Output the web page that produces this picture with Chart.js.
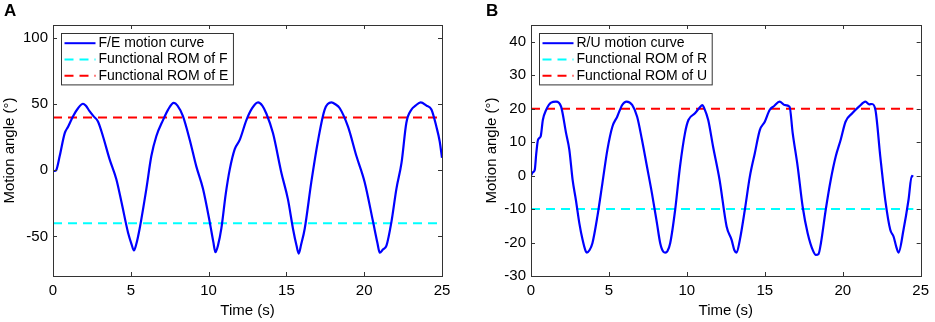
<!DOCTYPE html>
<html>
<head>
<meta charset="utf-8">
<script src="https://cdn.jsdelivr.net/npm/chart.js@4/dist/chart.umd.min.js"></script>
<style>
  body { margin: 0; background: #fff; }
  .panel { position: absolute; top: 0; height: 322px; }
  .tag { position: absolute; top: 1px; font: bold 17px "Liberation Sans", Arial, sans-serif; line-height: 20px; color: #000; }
</style>
</head>
<body>
<div class="panel" style="left:0;width:465px"><canvas id="chartA"></canvas></div>
<div class="panel" style="left:465px;width:470px"><canvas id="chartB"></canvas></div>
<div class="tag" style="left:4px">A</div>
<div class="tag" style="left:486px">B</div>
<script>
// panel A: flexion / extension
const timeA = [0, 0.1, 0.2, 0.43, 0.75, 0.97, 1.29, 1.61, 1.93, 2.1, 2.36, 2.6, 2.89, 3.21, 3.64, 4.07, 4.4, 4.82, 5.05, 5.2, 5.35, 5.57, 6.0, 6.32, 6.64, 7.07, 7.4, 7.76, 8.0, 8.35, 8.79, 9.21, 9.64, 10.07, 10.3, 10.44, 10.6, 10.82, 11.1, 11.36, 11.68, 12.0, 12.43, 12.8, 13.18, 13.45, 13.71, 14.14, 14.68, 15.1, 15.42, 15.65, 15.79, 15.95, 16.18, 16.6, 17.04, 17.46, 17.89, 18.15, 18.43, 18.96, 19.5, 20.03, 20.57, 20.85, 21.0, 21.2, 21.43, 21.75, 22.07, 22.4, 22.71, 23.04, 23.3, 23.63, 24.0, 24.32, 24.64, 24.85, 25];
const angleA = [0, -0.5, 0, 10.8, 28, 33, 41, 47, 50.4, 49, 44.6, 41, 37, 25.8, 8.3, -6.8, -24, -47, -56, -60.7, -56, -44, -14, 10.8, 25.8, 38, 46, 51, 49, 41, 23, 3, -14, -39, -54, -62, -57, -44, -18, 0.7, 16, 23, 38, 47, 51.4, 49, 43, 28, -2, -22, -44, -57, -63, -56, -44, -9, 23, 46, 51.4, 50, 47, 33, 10.8, -9, -39, -55, -62.4, -60, -57, -39, -14, 5.8, 36, 46, 49, 51.4, 49, 46, 33, 22, 9.5];
const romF = -40;
const romE = 40;

// panel B: radial / ulnar deviation
const timeB = [0, 0.12, 0.24, 0.34, 0.45, 0.62, 0.76, 0.97, 1.29, 1.61, 1.93, 2.25, 2.46, 2.67, 2.88, 3.1, 3.31, 3.5, 3.58, 3.75, 3.94, 4.26, 4.58, 4.9, 5.22, 5.53, 5.85, 6.13, 6.49, 6.81, 7.12, 7.44, 7.76, 8.08, 8.29, 8.5, 8.61, 8.75, 8.93, 9.25, 9.56, 9.88, 10.1, 10.52, 10.8, 11.0, 11.1, 11.37, 11.68, 12.1, 12.55, 12.87, 13.05, 13.19, 13.4, 13.72, 14.04, 14.36, 14.68, 15.0, 15.31, 15.6, 15.95, 16.27, 16.59, 16.79, 17.11, 17.43, 17.75, 18.1, 18.28, 18.45, 18.6, 18.91, 19.23, 19.55, 19.87, 20.18, 20.61, 21.04, 21.46, 21.7, 21.88, 22.1, 22.41, 22.73, 23.05, 23.26, 23.45, 23.58, 23.9, 24.22, 24.43, 24.53];
const angleB = [0, 1, 1.7, 6.7, 10.7, 11.7, 16.6, 19.6, 21.8, 22.1, 20.6, 12.7, 7.7, -1.3, -7.3, -14.2, -19.2, -22.5, -23, -22.3, -20.2, -12.2, -2.3, 7.7, 14.6, 17.6, 21.1, 22.1, 21.1, 17.6, 10.7, 2.7, -5.3, -14.2, -20.2, -22.8, -23, -22.6, -20.2, -10.2, 2.7, 12.7, 16.6, 18.6, 20.2, 21.1, 20.3, 16.6, 8.7, -1.3, -15.2, -19.2, -22.3, -23, -19.2, -10.2, -0.3, 6.7, 13.6, 16.1, 19.6, 20.8, 22.1, 21.1, 20.6, 12.7, 2.7, -9.3, -17.2, -22.5, -23.7, -23.4, -20.2, -10.2, -1.3, 5.7, 10.7, 16.1, 18.6, 20.6, 22.1, 21.3, 21.4, 19.6, 5.7, -7.3, -16.2, -18.2, -21.5, -23, -16.2, -7.3, -0.1, -0.3];
const romR = -10;
const romU = 20;

const FONT = '"Liberation Sans", Arial, Helvetica, sans-serif';
const AXIS_COLOR = '#333';

const pts = (xs, ys) => xs.map((x, i) => ({ x: x, y: ys[i] }));
const flat = (x0, x1, y) => [{ x: x0, y: y }, { x: x1, y: y }];

// MATLAB-like box with inward ticks, plus a boxed legend in the top left corner
const framePlugin = {
  id: 'frame',
  afterDraw(chart) {
    const ctx = chart.ctx;
    const a = chart.chartArea;
    const xs = chart.scales.x, ys = chart.scales.y;
    ctx.save();
    ctx.strokeStyle = AXIS_COLOR;
    ctx.lineWidth = 1;
    ctx.strokeRect(Math.round(a.left) + 0.5, Math.round(a.top) + 0.5, Math.round(a.right - a.left), Math.round(a.bottom - a.top));
    const tl = 4;
    ctx.beginPath();
    xs.ticks.forEach(t => {
      const px = Math.round(xs.getPixelForValue(t.value)) + 0.5;
      ctx.moveTo(px, a.bottom); ctx.lineTo(px, a.bottom - tl);
      ctx.moveTo(px, a.top); ctx.lineTo(px, a.top + tl);
    });
    ys.ticks.forEach(t => {
      const py = Math.round(ys.getPixelForValue(t.value)) + 0.5;
      ctx.moveTo(a.left, py); ctx.lineTo(a.left + tl, py);
      ctx.moveTo(a.right, py); ctx.lineTo(a.right - tl, py);
    });
    ctx.stroke();

    // legend
    const ds = chart.data.datasets;
    ctx.font = '14px ' + FONT;
    const bx = Math.round(a.left + 8) + 0.5, by = Math.round(a.top + 8) + 0.5;
    const row = 16.3, sample = 31, gap = 3, padR = 5;
    const tw = Math.max(...ds.map(d => ctx.measureText(d.label).width));
    const bw = 3 + sample + gap + tw + padR;
    const bh = row * ds.length + 2.5;
    ctx.fillStyle = '#fff';
    ctx.fillRect(bx, by, bw, bh);
    ctx.strokeStyle = AXIS_COLOR;
    ctx.strokeRect(bx, by, bw, bh);
    ds.forEach((d, i) => {
      const cy = by + 9.7 + i * row;
      ctx.beginPath();
      ctx.strokeStyle = d.borderColor;
      ctx.lineWidth = 2;
      ctx.setLineDash(d.borderDash || []);
      ctx.moveTo(bx + 3, cy); ctx.lineTo(bx + 3 + sample, cy);
      ctx.stroke();
      ctx.setLineDash([]);
      ctx.fillStyle = '#000';
      ctx.textBaseline = 'middle';
      ctx.fillText(d.label, bx + 3 + sample + gap, cy);
    });
    ctx.restore();
  }
};

function makeChart(id, cfg) {
  return new Chart(document.getElementById(id), {
    type: 'line',
    data: {
      datasets: [
        { label: cfg.labels[0], data: cfg.curve, borderColor: '#0000ff', borderWidth: 2.2, pointRadius: 0, cubicInterpolationMode: 'monotone' },
        { label: cfg.labels[1], data: cfg.low, borderColor: '#00ffff', borderWidth: 2, borderDash: [9, 6], pointRadius: 0 },
        { label: cfg.labels[2], data: cfg.high, borderColor: '#ff0000', borderWidth: 2, borderDash: [9, 6], pointRadius: 0 }
      ]
    },
    options: {
      responsive: true,
      maintainAspectRatio: false,
      animation: false,
      layout: { padding: { top: 25, right: cfg.padRight, left: 0, bottom: 0 } },
      plugins: { legend: { display: false }, tooltip: { enabled: false } },
      scales: {
        x: {
          type: 'linear', min: 0, max: 25,
          grid: { display: false, tickLength: 0 }, border: { display: false },
          ticks: { stepSize: 5, padding: 6, color: '#000', font: { family: FONT, size: 15 } },
          title: { display: true, text: 'Time (s)', color: '#000', font: { family: FONT, size: 15 }, padding: { top: 0, bottom: 2 } },
          afterFit: s => { s.height = 46; }
        },
        y: {
          min: cfg.yMin, max: cfg.yMax,
          grid: { display: false, tickLength: 0 }, border: { display: false },
          ticks: { padding: 5, color: '#000', font: { family: FONT, size: 15 } },
          afterBuildTicks: s => { s.ticks = cfg.yTicks.map(v => ({ value: v })); },
          title: { display: true, text: 'Motion angle (°)', color: '#000', font: { family: FONT, size: 15 }, padding: { top: cfg.titlePad, bottom: 0 } },
          afterFit: s => { s.width = cfg.yWidth; }
        }
      }
    },
    plugins: [framePlugin]
  });
}

makeChart('chartA', {
  labels: ['F/E motion curve', 'Functional ROM of F', 'Functional ROM of E'],
  curve: pts(timeA, angleA),
  low: flat(0, 25, romF),
  high: flat(0, 25, romE),
  yMin: -80, yMax: 110, yTicks: [-50, 0, 50, 100],
  yWidth: 53, padRight: 23, titlePad: 1
});

makeChart('chartB', {
  labels: ['R/U motion curve', 'Functional ROM of R', 'Functional ROM of U'],
  curve: pts(timeB, angleB),
  low: flat(0, 24.53, romR),
  high: flat(0, 24.53, romU),
  yMin: -30, yMax: 45, yTicks: [-30, -20, -10, 0, 10, 20, 30, 40],
  yWidth: 66, padRight: 11, titlePad: 18
});
</script>
</body>
</html>
